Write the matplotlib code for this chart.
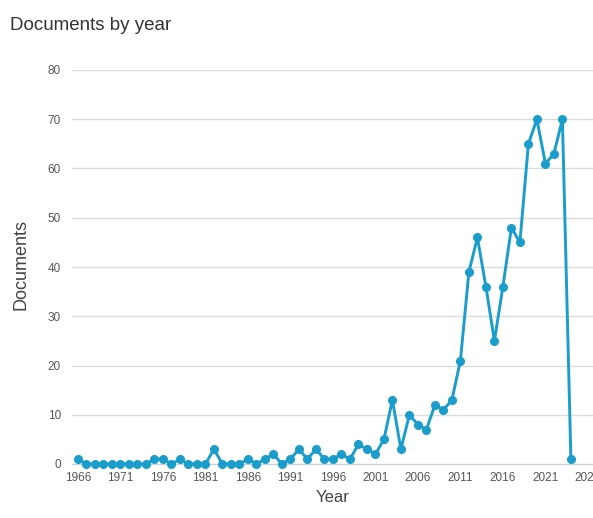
import matplotlib
matplotlib.use("Agg")
import matplotlib.pyplot as plt
import numpy as np

plt.rcParams['font.family'] = ['Liberation Sans', 'DejaVu Sans']

# documentos por año
years = np.arange(1966, 2025)
docs = [1, 0, 0, 0, 0, 0, 0, 0, 0, 1,
        1, 0, 1, 0, 0, 0, 3, 0, 0, 0,
        1, 0, 1, 2, 0, 1, 3, 1, 3, 1,
        1, 2, 1, 4, 3, 2, 5, 13, 3, 10,
        8, 7, 12, 11, 13, 21, 39, 46, 36, 25,
        36, 48, 45, 65, 70, 61, 63, 70, 1]
xticks = np.arange(1966, 2027, 5)
yticks = np.arange(0, 81, 10)

fig = plt.figure(figsize=(5.93, 5.18), dpi=100)
ax = fig.add_axes([72/593, 1 - 464/518, 1 - 72/593, (464 - 70)/518])

ax.plot(years, docs, color='#1a9dcb', linewidth=2.1, marker='o',
        markersize=5.5, clip_on=False, zorder=3)

ax.set_xlim(1965.3, 2026.6)
ax.set_ylim(0, 80)
ax.set_xticks(xticks)
ax.set_yticks(yticks)
ax.tick_params(axis='both', length=0, labelsize=8.5, labelcolor='#555555')
ax.tick_params(axis='x', pad=6)
ax.tick_params(axis='y', pad=8)
ax.grid(axis='y', color='#dcdcdc', linewidth=1)
ax.set_axisbelow(True)
for s in ['top', 'right', 'left']:
    ax.spines[s].set_visible(False)
ax.spines['bottom'].set_color('#c8d0e0')

ax.set_xlabel("Year", fontsize=12, color='#444444', labelpad=4)
fig.text(0.035, 1 - 265/518, "Documents", rotation=90, fontsize=13,
         color='#444444', ha='center', va='center')
fig.text(10/593, 1 - 25/518, "Documents by year", fontsize=13.5,
         color='#333333', ha='left', va='center')

fig.savefig("out.png", dpi=100)
